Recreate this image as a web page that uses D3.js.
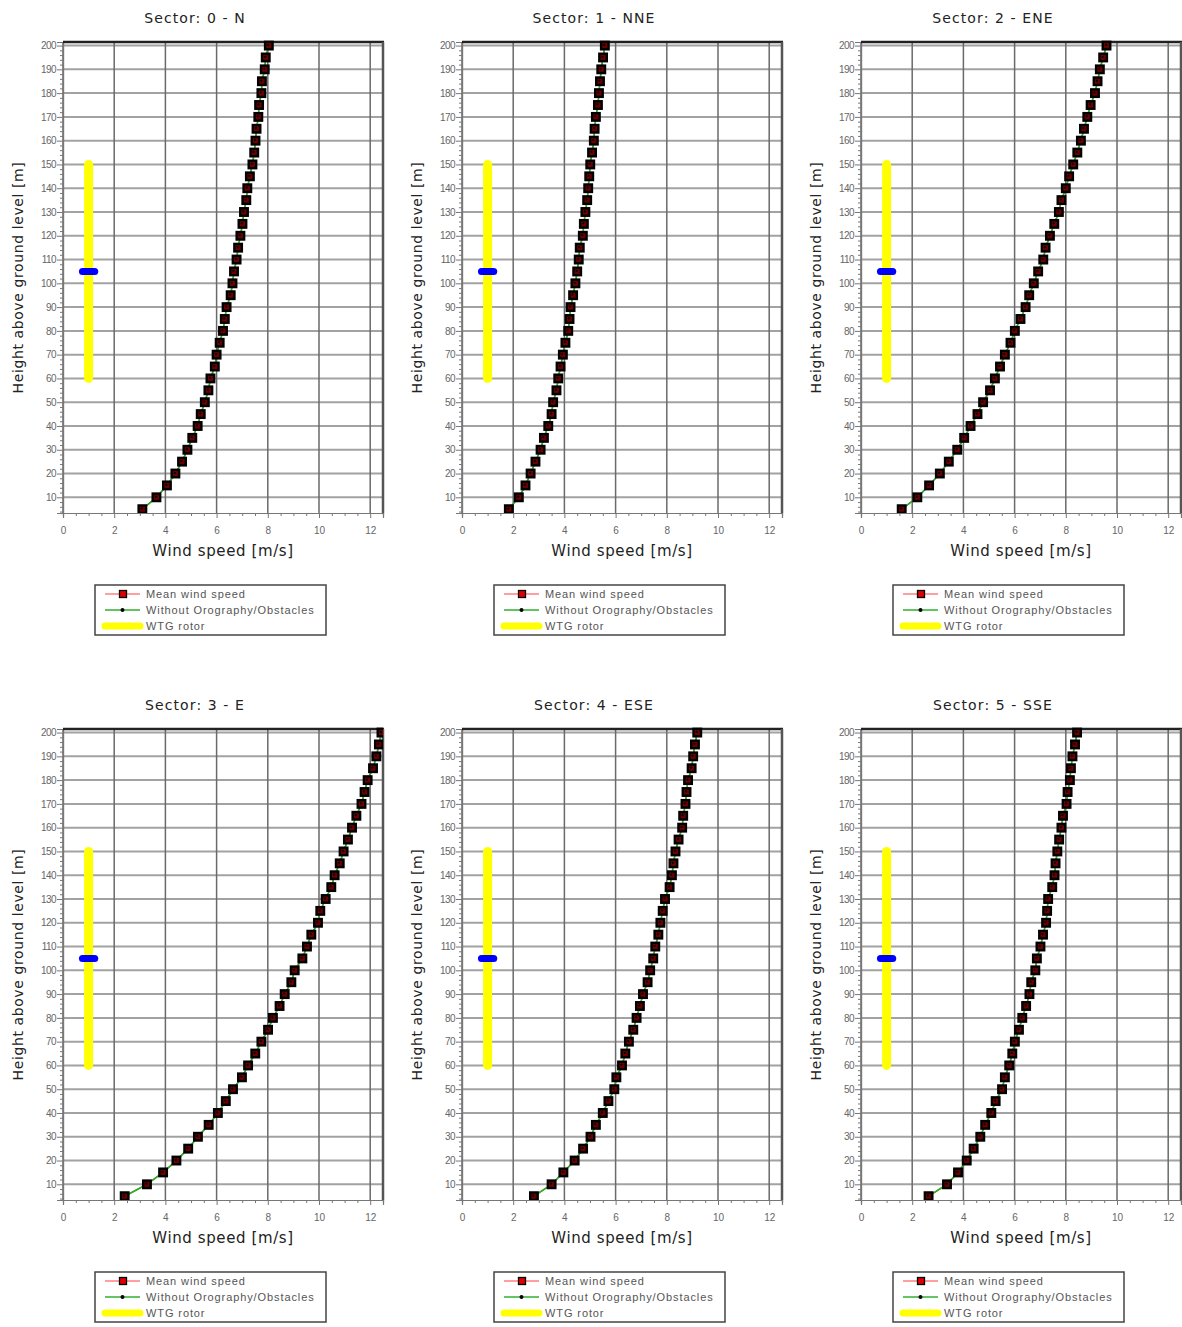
<!DOCTYPE html>
<html>
<head>
<meta charset="utf-8">
<script src="https://cdn.jsdelivr.net/npm/d3@7"></script>
<style>
  html, body { margin: 0; padding: 0; background: #fff; }
  svg { display: block; }
</style>
</head>
<body>
<svg id="chart" width="1182" height="1327"></svg>
<script>
// Vertical wind profiles per direction sector.
const sectorTitles = [
  "Sector: 0 - N", "Sector: 1 - NNE", "Sector: 2 - ENE",
  "Sector: 3 - E", "Sector: 4 - ESE", "Sector: 5 - SSE"
];

// Heights above ground level [m]
const heights = [5, 10, 15, 20, 25, 30, 35, 40, 45, 50,
                 55, 60, 65, 70, 75, 80, 85, 90, 95, 100,
                 105, 110, 115, 120, 125, 130, 135, 140, 145, 150,
                 155, 160, 165, 170, 175, 180, 185, 190, 195, 200];

// Mean wind speed [m/s] at each height, one array per sector
const speedN = [3.10, 3.65, 4.06, 4.39, 4.65, 4.86, 5.05, 5.26, 5.38, 5.54,
                5.68, 5.76, 5.93, 6.00, 6.12, 6.25, 6.32, 6.39, 6.55, 6.62,
                6.68, 6.78, 6.84, 6.93, 7.01, 7.07, 7.16, 7.20, 7.30, 7.40,
                7.47, 7.52, 7.56, 7.63, 7.66, 7.75, 7.77, 7.88, 7.92, 8.04];
const speedNNE = [1.83, 2.22, 2.48, 2.68, 2.87, 3.07, 3.20, 3.37, 3.50, 3.56,
                  3.69, 3.76, 3.85, 3.94, 4.04, 4.15, 4.20, 4.24, 4.34, 4.43,
                  4.50, 4.56, 4.60, 4.72, 4.76, 4.82, 4.89, 4.93, 4.97, 5.01,
                  5.08, 5.15, 5.18, 5.23, 5.31, 5.35, 5.39, 5.44, 5.51, 5.58];
const speedENE = [1.59, 2.20, 2.66, 3.08, 3.43, 3.76, 4.03, 4.28, 4.55, 4.77,
                  5.04, 5.23, 5.43, 5.62, 5.84, 6.01, 6.23, 6.43, 6.57, 6.75,
                  6.92, 7.12, 7.21, 7.38, 7.55, 7.73, 7.83, 8.00, 8.13, 8.29,
                  8.45, 8.59, 8.71, 8.84, 8.97, 9.14, 9.24, 9.33, 9.46, 9.59];
const speedE = [2.41, 3.28, 3.91, 4.43, 4.89, 5.27, 5.69, 6.05, 6.36, 6.64,
                6.99, 7.23, 7.51, 7.75, 8.01, 8.20, 8.46, 8.66, 8.92, 9.05,
                9.35, 9.53, 9.70, 9.96, 10.05, 10.26, 10.48, 10.61, 10.81, 10.96,
                11.13, 11.29, 11.46, 11.66, 11.78, 11.90, 12.11, 12.24, 12.34, 12.44];
const speedESE = [2.81, 3.50, 3.96, 4.40, 4.73, 5.02, 5.23, 5.50, 5.72, 5.95,
                  6.03, 6.25, 6.38, 6.52, 6.69, 6.82, 6.95, 7.07, 7.25, 7.35,
                  7.47, 7.55, 7.67, 7.75, 7.84, 7.93, 8.11, 8.20, 8.26, 8.34,
                  8.46, 8.60, 8.64, 8.73, 8.77, 8.83, 8.97, 9.03, 9.10, 9.19];
const speedSSE = [2.64, 3.36, 3.79, 4.13, 4.40, 4.66, 4.85, 5.09, 5.26, 5.51,
                  5.62, 5.79, 5.91, 6.01, 6.17, 6.30, 6.45, 6.58, 6.65, 6.81,
                  6.87, 7.01, 7.11, 7.23, 7.27, 7.31, 7.47, 7.56, 7.60, 7.67,
                  7.74, 7.83, 7.89, 8.03, 8.07, 8.16, 8.20, 8.26, 8.36, 8.44];

const meanSpeeds = [speedN, speedNNE, speedENE, speedE, speedESE, speedSSE];
// The profile without orography/obstacles coincides with the mean profile here
const plainSpeeds = [speedN, speedNNE, speedENE, speedE, speedESE, speedSSE];

// Turbine rotor: speed-axis position, rotor span and hub height [m]
const rotorSpeed = 1;
const rotorBottom = 60;
const rotorTop = 150;
const hubHeight = 105;

const xTicks = [0, 2, 4, 6, 8, 10, 12];
const xMinorTicks = [0.5, 1, 1.5, 2.5, 3, 3.5, 4.5, 5, 5.5, 6.5, 7, 7.5,
                     8.5, 9, 9.5, 10.5, 11, 11.5, 12.5];
const yTicks = [10, 20, 30, 40, 50, 60, 70, 80, 90, 100,
                110, 120, 130, 140, 150, 160, 170, 180, 190, 200];
const yMinorTicks = [4, 6, 8, 12, 14, 16, 18, 22, 24, 26, 28, 32, 34, 36, 38,
                     42, 44, 46, 48, 52, 54, 56, 58, 62, 64, 66, 68, 72, 74, 76, 78,
                     82, 84, 86, 88, 92, 94, 96, 98, 102, 104, 106, 108,
                     112, 114, 116, 118, 122, 124, 126, 128, 132, 134, 136, 138,
                     142, 144, 146, 148, 152, 154, 156, 158, 162, 164, 166, 168,
                     172, 174, 176, 178, 182, 184, 186, 188, 192, 194, 196, 198];
const legendItems = ["Mean wind speed", "Without Orography/Obstacles", "WTG rotor"];

const svg = d3.select("#chart");
const W = 320, H = 471;
const colLeft = [63, 462, 861];
const rowTop = [42, 729];
const font = "'Liberation Sans', Arial, sans-serif";
const labelFont = "'DejaVu Sans', Verdana, sans-serif";

function drawPanel(i) {
  const ox = colLeft[i % 3], oy = rowTop[Math.floor(i / 3)];
  const g = svg.append("g").attr("transform", `translate(${ox},${oy})`);
  const x = d3.scaleLinear().domain([0, 12.5]).range([0, W]);
  const y = d3.scaleLinear().domain([3.4, 201.5]).range([H, 0]);

  svg.append("clipPath").attr("id", `plot-clip-${i}`)
    .append("rect").attr("x", 0).attr("y", -6).attr("width", W).attr("height", H + 6);

  // grid
  g.append("g").selectAll("line").data(yTicks).join("line")
    .attr("x1", 0).attr("x2", W)
    .attr("y1", d => y(d)).attr("y2", d => y(d))
    .attr("stroke", "#a2a2a2").attr("stroke-width", 2);
  g.append("g").selectAll("line").data(xTicks).join("line")
    .attr("x1", d => x(d)).attr("x2", d => x(d))
    .attr("y1", 0).attr("y2", H)
    .attr("stroke", "#6a6a6a").attr("stroke-width", 1.5);

  // axes
  const yAxis = g.append("g")
    .call(d3.axisLeft(y).tickValues(yTicks).tickSize(6).tickPadding(1).tickFormat(d3.format("d")));
  g.append("g").call(d3.axisLeft(y).tickValues(yMinorTicks).tickSize(3).tickFormat(""));
  g.append("g").attr("transform", `translate(0,${H})`)
    .call(d3.axisBottom(x).tickValues(xTicks).tickSize(5).tickPadding(9).tickFormat(d3.format("d")));
  g.append("g").attr("transform", `translate(0,${H})`)
    .call(d3.axisBottom(x).tickValues(xMinorTicks).tickSize(3).tickFormat(""));
  g.selectAll(".domain").attr("stroke", "#777").attr("stroke-width", 1.2);
  g.selectAll(".tick line").attr("stroke", "#777");
  g.selectAll(".tick text").attr("fill", "#666").attr("font-size", 10)
    .attr("font-family", font);
  yAxis.selectAll(".tick text").attr("letter-spacing", "-0.6");

  // frame: heavy top and right edges
  g.append("line").attr("x1", 0).attr("x2", W + 1).attr("y1", 0).attr("y2", 0)
    .attr("stroke", "#222").attr("stroke-width", 2.5);
  g.append("line").attr("x1", W).attr("x2", W).attr("y1", 0).attr("y2", H)
    .attr("stroke", "#555").attr("stroke-width", 2.5);

  // rotor and hub
  g.append("line")
    .attr("x1", x(rotorSpeed)).attr("x2", x(rotorSpeed))
    .attr("y1", y(rotorBottom)).attr("y2", y(rotorTop))
    .attr("stroke", "#ffff00").attr("stroke-width", 9).attr("stroke-linecap", "round");
  g.append("line")
    .attr("x1", x(rotorSpeed - 0.24)).attr("x2", x(rotorSpeed + 0.24))
    .attr("y1", y(hubHeight)).attr("y2", y(hubHeight))
    .attr("stroke", "#0000ff").attr("stroke-width", 7).attr("stroke-linecap", "round");

  const mean = heights.map((h, k) => [meanSpeeds[i][k], h]);
  const plain = heights.map((h, k) => [plainSpeeds[i][k], h]);
  const line = d3.line().x(d => x(d[0])).y(d => y(d[1]));
  const plot = g.append("g").attr("clip-path", `url(#plot-clip-${i})`);

  plot.append("path").datum(mean).attr("d", line)
    .attr("fill", "none").attr("stroke", "#ff0000").attr("stroke-width", 1.2);
  plot.append("path").datum(plain).attr("d", line)
    .attr("fill", "none").attr("stroke", "#22b422").attr("stroke-width", 1.6);
  plot.append("g").selectAll("rect").data(mean).join("rect")
    .attr("x", d => x(d[0]) - 3.75).attr("y", d => y(d[1]) - 3.75)
    .attr("width", 7.5).attr("height", 7.5)
    .attr("fill", "#6a0000").attr("stroke", "#000").attr("stroke-width", 2.4);
  plot.append("g").selectAll("circle").data(plain).join("circle")
    .attr("cx", d => x(d[0]) - 0.6).attr("cy", d => y(d[1]) - 0.6).attr("r", 1.1)
    .attr("fill", "#000");

  // titles
  g.append("text").attr("x", 132).attr("y", -19)
    .attr("text-anchor", "middle").attr("font-family", labelFont)
    .attr("font-size", 14).attr("letter-spacing", "1.1").attr("fill", "#222")
    .text(sectorTitles[i]);
  g.append("text").attr("x", W / 2).attr("y", H + 43)
    .attr("text-anchor", "middle").attr("font-family", labelFont)
    .attr("font-size", 15).attr("letter-spacing", "0.6").attr("fill", "#222")
    .text("Wind speed [m/s]");
  g.append("text")
    .attr("transform", `translate(-40,${H / 2}) rotate(-90)`)
    .attr("text-anchor", "middle").attr("font-family", labelFont)
    .attr("font-size", 14).attr("letter-spacing", "0.6").attr("fill", "#222")
    .text("Height above ground level [m]");

  // legend
  const lg = g.append("g").attr("transform", `translate(32,${H + 72})`);
  lg.append("rect").attr("x", 0).attr("y", 0).attr("width", 231).attr("height", 50)
    .attr("fill", "#fff").attr("stroke", "#444").attr("stroke-width", 1.5);
  const ly = [9, 25, 41];
  lg.append("line").attr("x1", 10).attr("x2", 45).attr("y1", ly[0]).attr("y2", ly[0])
    .attr("stroke", "#ff4040").attr("stroke-width", 1.2);
  lg.append("rect").attr("x", 24.5).attr("y", ly[0] - 3.5).attr("width", 7).attr("height", 7)
    .attr("fill", "#e00000").attr("stroke", "#000").attr("stroke-width", 1.3);
  lg.append("line").attr("x1", 10).attr("x2", 45).attr("y1", ly[1]).attr("y2", ly[1])
    .attr("stroke", "#30b030").attr("stroke-width", 1.6);
  lg.append("circle").attr("cx", 27.5).attr("cy", ly[1]).attr("r", 2).attr("fill", "#000");
  lg.append("line").attr("x1", 10).attr("x2", 45).attr("y1", ly[2]).attr("y2", ly[2])
    .attr("stroke", "#ffff00").attr("stroke-width", 7).attr("stroke-linecap", "round");
  lg.selectAll("text.item").data(legendItems).join("text").attr("class", "item")
    .attr("x", 51).attr("y", (d, k) => ly[k] + 3.5)
    .attr("font-family", font).attr("font-size", 11).attr("letter-spacing", "0.9")
    .attr("fill", "#555").text(d => d);
}

sectorTitles.forEach((t, i) => drawPanel(i));
</script>
</body>
</html>
